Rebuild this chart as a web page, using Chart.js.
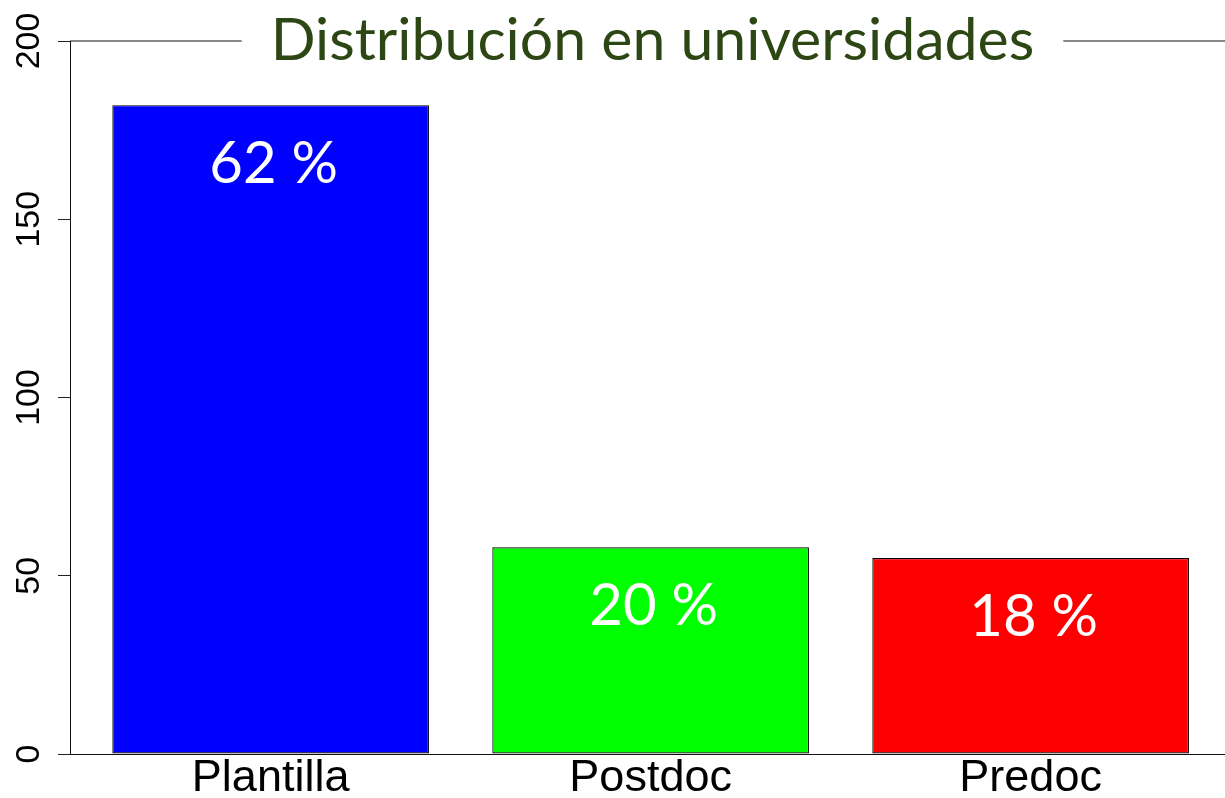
<!DOCTYPE html>
<html>
<head>
<meta charset="utf-8">
<script src="https://cdn.jsdelivr.net/npm/chart.js@4"></script>
<style>
  body { margin: 0; background: #fff; }
  canvas { display: block; }
</style>
</head>
<body>
<canvas id="myChart" width="1225" height="798"></canvas>
<script>
const categorias = ['Plantilla', 'Postdoc', 'Predoc']
const valores = [182, 58, 55]
const porcentajes = ['62 %', '20 %', '18 %']
const colores = ['#0000ff', '#00ff00', '#ff0000']
const yTicks = [0, 50, 100, 150, 200]
const titulo = 'Distribución en universidades'

// title sits over the line at the top of the plot
const tituloPlugin = {
  id: 'tituloPlugin',
  afterDraw(chart) {
    const { ctx, chartArea } = chart
    ctx.save()
    ctx.strokeStyle = '#111'
    ctx.lineWidth = 1
    ctx.beginPath()
    ctx.moveTo(chartArea.left, chartArea.top)
    ctx.lineTo(chartArea.right, chartArea.top)
    ctx.stroke()
    ctx.font = '59px Lato'
    const w = ctx.measureText(titulo).width
    const cx = (chartArea.left + chartArea.right) / 2 + 5
    ctx.fillStyle = '#fff'
    ctx.fillRect(cx - w / 2 - 29, 0, w + 58, chartArea.top + 30)
    ctx.fillStyle = '#2d4714'
    ctx.textAlign = 'center'
    ctx.textBaseline = 'alphabetic'
    ctx.fillText(titulo, cx, chartArea.top + 19)
    ctx.restore()
  }
}

// percentage labels inside the bars
const etiquetasPlugin = {
  id: 'etiquetasPlugin',
  afterDatasetsDraw(chart) {
    const { ctx } = chart
    const meta = chart.getDatasetMeta(0)
    ctx.save()
    ctx.font = '58px Lato'
    ctx.fillStyle = '#fff'
    ctx.textAlign = 'center'
    ctx.textBaseline = 'middle'
    meta.data.forEach((bar, i) => {
      ctx.fillText(porcentajes[i], bar.x + 3, bar.y + 59)
    })
    ctx.restore()
  }
}

;(() => {
  'use strict'

  const ctx = document.getElementById('myChart')

  // eslint-disable-next-line no-unused-vars
  var myChart = new Chart(ctx, {
    type: 'bar',
    data: {
      datasets: [
        {
          data: valores.map((v, i) => ({ x: i, y: v })),
          backgroundColor: colores,
          borderColor: '#000',
          borderWidth: 1.2,
          borderSkipped: false,
          barPercentage: 0.8333,
          categoryPercentage: 1
        }
      ]
    },
    options: {
      responsive: false,
      animation: false,
      layout: { padding: { top: 41, right: 0, left: 0, bottom: 0 } },
      plugins: {
        legend: { display: false },
        tooltip: { enabled: false }
      },
      scales: {
        x: {
          type: 'linear',
          offset: false,
          min: -0.528,
          max: 2.5115,
          grid: { display: false, drawTicks: false },
          border: { display: true, color: '#111', width: 1 },
          ticks: {
            stepSize: 1,
            includeBounds: false,
            autoSkip: false,
            maxRotation: 0,
            padding: -2,
            color: '#000',
            font: { family: 'Liberation Sans', size: 45 },
            callback: v => categorias[v] ?? ''
          },
          afterFit: box => { box.height = 44 }
        },
        y: {
          min: 0,
          max: 200,
          grid: { display: true, drawOnChartArea: false, drawTicks: true, tickLength: 12, color: '#222' },
          border: { display: true, color: '#111', width: 1 },
          afterBuildTicks: axis => { axis.ticks = yTicks.map(v => ({ value: v })) },
          ticks: {
            minRotation: 90,
            maxRotation: 90,
            crossAlign: 'center',
            padding: 0,
            color: '#000',
            font: { family: 'Liberation Sans', size: 34 }
          },
          afterFit: box => { box.width = 70 }
        }
      }
    },
    plugins: [etiquetasPlugin, tituloPlugin]
  })
})()
</script>
</body>
</html>
